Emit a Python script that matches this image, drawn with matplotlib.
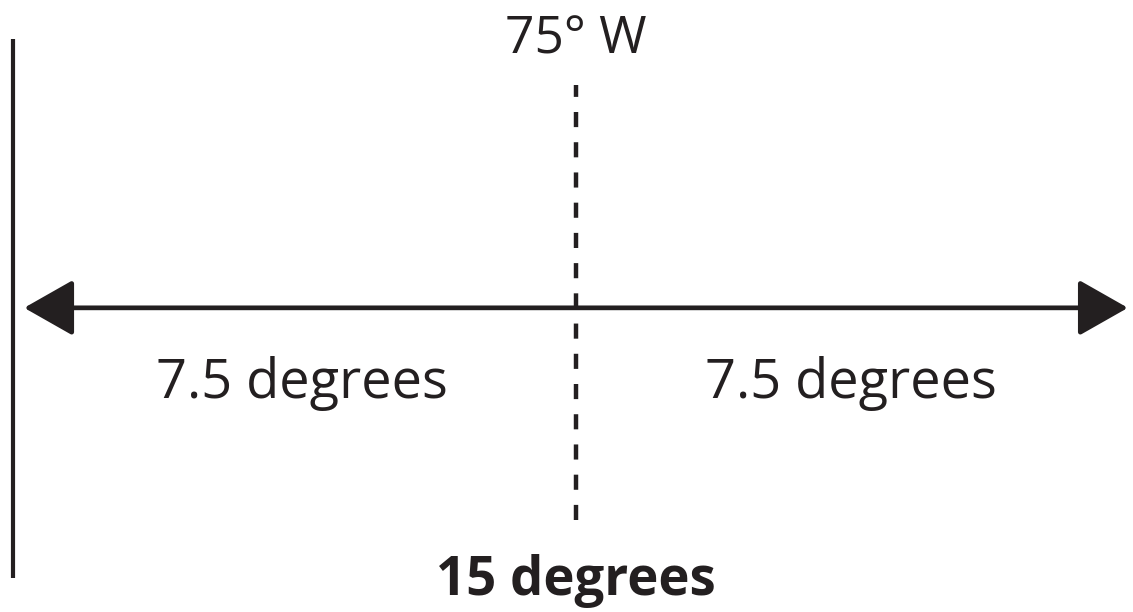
import matplotlib.pyplot as plt

# Time zone diagram: central meridian with 7.5 degrees on each side
meridian_label = '75° W'
half_zone = 7.5                      # degrees either side of the meridian
side_labels = ['7.5 degrees', '7.5 degrees']
side_centers = [-half_zone / 2, half_zone / 2]
total_label = '15 degrees'

plt.rcParams['font.family'] = ['Open Sans', 'DejaVu Sans']

fig = plt.figure(figsize=(11.33, 6.12), dpi=100)
ax = fig.add_axes([0, 0, 1, 1])
ax.set_xlim(-7.87, 7.61)
ax.set_ylim(0, 1)
ax.axis('off')

# left boundary line
ax.plot([-half_zone - 0.19, -half_zone - 0.19], [0.056, 0.936], color='#231f20', lw=3.0,
        solid_capstyle='butt')

# double-headed arrow spanning the zone
ax.annotate('', xy=(half_zone + 0.04, 0.497), xytext=(-half_zone - 0.04, 0.497),
            arrowprops=dict(arrowstyle='<|-|>,head_length=2.2,head_width=1.25',
                            mutation_scale=14, color='#231f20', lw=3.4,
                            shrinkA=0, shrinkB=0))

# central meridian (dashed)
ax.plot([0, 0], [0.150, 0.861], color='#231f20', lw=3.2, linestyle=(0, (3.4, 3.4)),
        solid_capstyle='butt', dash_capstyle='butt')

ax.text(0, 0.913, meridian_label, ha='center', va='baseline', fontsize=37, color='#231f20')
for xc, lab in zip(side_centers, side_labels):
    ax.text(xc, 0.350, lab, ha='center', va='baseline', fontsize=39, color='#231f20')
ax.text(0, 0.028, total_label, ha='center', va='baseline', fontsize=38,
        fontweight='bold', color='#231f20')

fig.savefig('out.png', dpi=100)
